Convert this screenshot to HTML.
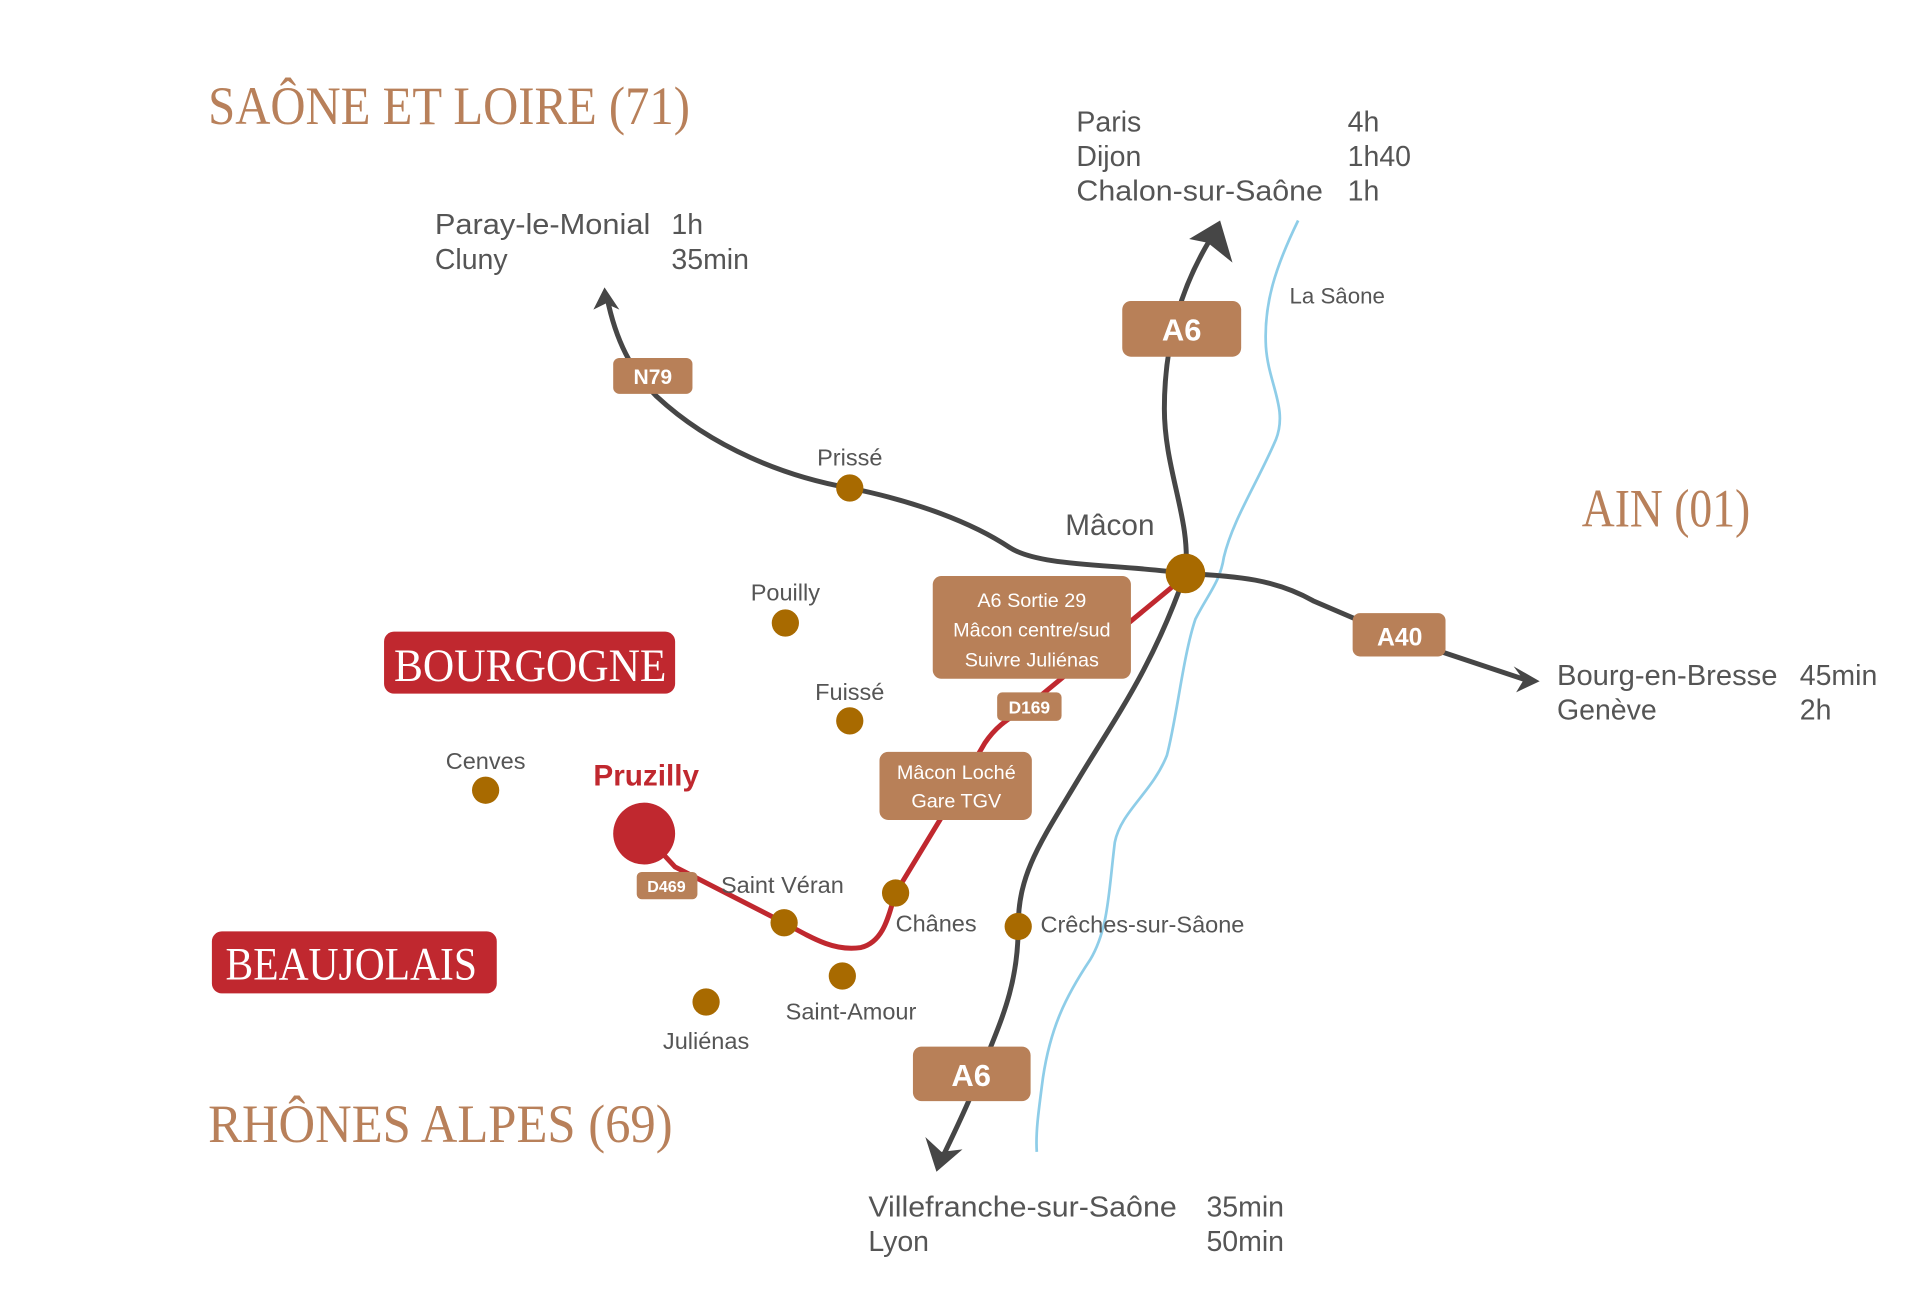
<!DOCTYPE html>
<html><head><meta charset="utf-8"><style>
html,body{margin:0;padding:0;background:#fff;}
svg{display:block;}
.t{font-family:"Liberation Sans",sans-serif;fill:#555;}
.s{font-family:"Liberation Serif",serif;}
</style></head><body>
<svg width="1920" height="1303" viewBox="0 0 1550 1052" xmlns="http://www.w3.org/2000/svg">
<rect width="1550" height="1052" fill="#fff"/>
<!-- regions -->
<g class="s" fill="#b8805a" font-size="44">
<text x="168" y="100" textLength="389" lengthAdjust="spacingAndGlyphs">SAÔNE ET LOIRE (71)</text>
<text x="1277" y="425" textLength="136" lengthAdjust="spacingAndGlyphs">AIN (01)</text>
<text x="168" y="922" textLength="375" lengthAdjust="spacingAndGlyphs">RHÔNES ALPES (69)</text>
</g>
<rect x="310" y="510" width="235" height="50" rx="8" fill="#c0282f"/>
<text class="s" x="318" y="550" font-size="38" fill="#fff" textLength="220" lengthAdjust="spacingAndGlyphs">BOURGOGNE</text>
<rect x="171" y="752" width="230" height="50" rx="8" fill="#c0282f"/>
<text class="s" x="182" y="791" font-size="38" fill="#fff" textLength="203" lengthAdjust="spacingAndGlyphs">BEAUJOLAIS</text>

<!-- river -->
<path d="M1048,178 C1030,215 1020,245 1022,280 C1024,310 1040,330 1030,355 C1015,390 995,420 988,450 C985,470 975,480 965,500 C955,530 950,580 942,610 C930,640 905,655 900,680 C895,720 895,750 880,775 C860,805 848,830 842,870 C838,900 836,915 837,930" fill="none" stroke="#8ecde8" stroke-width="2.2"/>

<!-- dark roads -->
<g fill="none" stroke="#464646" stroke-width="4">
<path d="M490,240 C497,275 510,300 530,320 C575,362 635,385 686,394 C740,405 785,422 815,442 C840,458 900,455 957,463"/>
<path d="M957,463 C962,420 940,380 940,330 C940,275 955,230 976,195"/>
<path d="M957,463 C930,540 900,580 870,630 C840,680 822,705 822,748 C822,800 805,830 790,870 C780,895 770,915 762,932"/>
<path d="M957,463 C1000,465 1030,468 1060,485 L1130,515 L1232,549"/>
</g>
<!-- arrowheads -->
<g fill="#464646">
<path d="M488,232 L479,250 L489,245 L500,250 Z"/>
<path d="M985,178 L960,193 L975,196 L995,212 Z"/>
<path d="M756,946 L747,918 L760,930 L777,928 Z"/>
<path d="M1243,550 L1222,538 L1230,549 L1224,559 Z"/>
</g>

<!-- red route -->
<path d="M520,673 L545,700 L633,745 C660,760 675,768 695,765 C715,760 718,735 723,721 L760,660 L795,600 C805,585 815,580 830,570 L945,475 L957,463" fill="none" stroke="#c0282f" stroke-width="4"/>

<!-- boxes -->
<g fill="#b88058">
<rect x="906" y="243" width="96" height="45" rx="7"/>
<rect x="495" y="289" width="64" height="29" rx="5"/>
<rect x="1092" y="495" width="75" height="35" rx="6"/>
<rect x="737" y="845" width="95" height="44" rx="7"/>
<rect x="514" y="704" width="49" height="22" rx="4"/>
<rect x="805" y="559" width="52" height="23" rx="4"/>
<rect x="753" y="465" width="160" height="83" rx="7"/>
<rect x="710" y="607" width="123" height="55" rx="7"/>
</g>
<g class="t" fill="#fff" style="fill:#fff" font-weight="bold" text-anchor="middle">
<text x="954" y="275" font-size="25">A6</text>
<text x="527" y="310" font-size="17">N79</text>
<text x="1130" y="521" font-size="20">A40</text>
<text x="784" y="877" font-size="25">A6</text>
<text x="538" y="720" font-size="13">D469</text>
<text x="831" y="576" font-size="14">D169</text>
</g>
<g class="t" style="fill:#fff" font-size="16" text-anchor="middle">
<text x="833" y="490">A6 Sortie 29</text>
<text x="833" y="514">Mâcon centre/sud</text>
<text x="833" y="538">Suivre Juliénas</text>
<text x="772" y="629">Mâcon Loché</text>
<text x="772" y="652">Gare TGV</text>
</g>

<!-- dots -->
<g fill="#a86a00">
<circle cx="686" cy="394" r="11"/>
<circle cx="634" cy="503" r="11"/>
<circle cx="686" cy="582" r="11"/>
<circle cx="392" cy="638" r="11"/>
<circle cx="633" cy="745" r="11"/>
<circle cx="723" cy="721" r="11"/>
<circle cx="680" cy="788" r="11"/>
<circle cx="570" cy="809" r="11"/>
<circle cx="822" cy="748" r="11"/>
<circle cx="957" cy="463" r="16"/>
</g>
<circle cx="520" cy="673" r="25" fill="#c0282f"/>
<text class="t" x="479" y="634" font-size="24" font-weight="bold" style="fill:#c0282f">Pruzilly</text>

<!-- place labels -->
<g class="t" font-size="19">
<text x="686" y="376" text-anchor="middle">Prissé</text>
<text x="634" y="485" text-anchor="middle">Pouilly</text>
<text x="686" y="565" text-anchor="middle">Fuissé</text>
<text x="392" y="621" text-anchor="middle">Cenves</text>
<text x="582" y="721">Saint Véran</text>
<text x="723" y="752">Chânes</text>
<text x="687" y="823" text-anchor="middle">Saint-Amour</text>
<text x="570" y="847" text-anchor="middle">Juliénas</text>
<text x="840" y="753">Crêches-sur-Sâone</text>
<text x="1041" y="245" font-size="18">La Sâone</text>
<text x="860" y="432" font-size="24">Mâcon</text>
</g>

<!-- destinations -->
<g class="t" font-size="23">
<text x="351" y="189" textLength="174" lengthAdjust="spacingAndGlyphs">Paray-le-Monial</text>
<text x="542" y="189">1h</text>
<text x="351" y="217">Cluny</text>
<text x="542" y="217">35min</text>
<text x="869" y="106">Paris</text>
<text x="1088" y="106">4h</text>
<text x="869" y="134">Dijon</text>
<text x="1088" y="134">1h40</text>
<text x="869" y="162" textLength="199" lengthAdjust="spacingAndGlyphs">Chalon-sur-Saône</text>
<text x="1088" y="162">1h</text>
<text x="1257" y="553" textLength="178" lengthAdjust="spacingAndGlyphs">Bourg-en-Bresse</text>
<text x="1453" y="553">45min</text>
<text x="1257" y="581">Genève</text>
<text x="1453" y="581">2h</text>
<text x="701" y="982" textLength="249" lengthAdjust="spacingAndGlyphs">Villefranche-sur-Saône</text>
<text x="974" y="982">35min</text>
<text x="701" y="1010">Lyon</text>
<text x="974" y="1010">50min</text>
</g>
</svg>
</body></html>
